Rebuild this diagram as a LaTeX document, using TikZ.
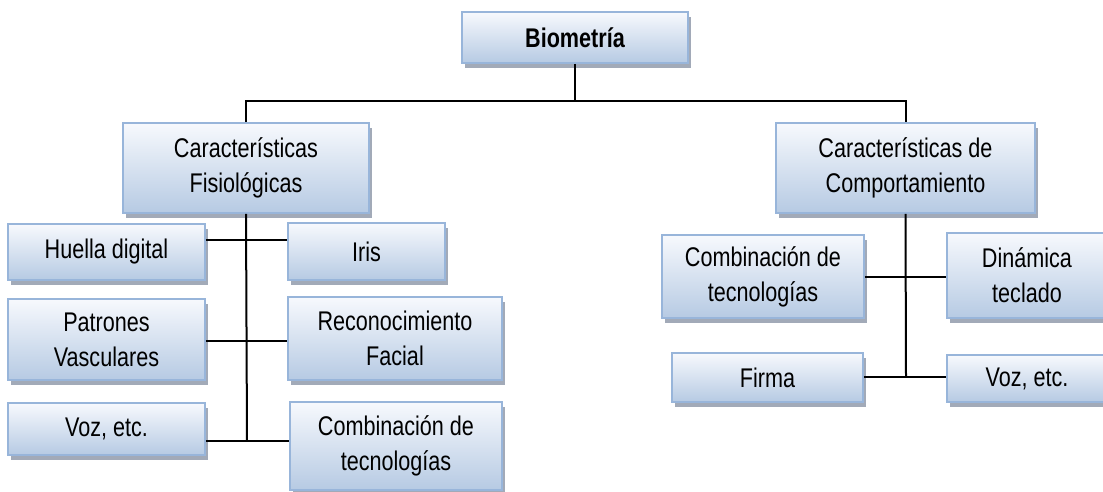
\documentclass[tikz,border=0pt]{standalone}
\usepackage{fontspec}
\setmainfont{Liberation Sans}[FakeStretch=0.8]
\usetikzlibrary{shadows}
\definecolor{boxtop}{HTML}{F7F9FD}
\definecolor{boxbot}{HTML}{B6CAE3}
\definecolor{boxline}{HTML}{98B5DA}
\definecolor{shadowc}{HTML}{A2AAB8}
\tikzset{
  bx/.style={rectangle, draw=boxline, line width=1.8pt, top color=boxtop, bottom color=boxbot,
    align=center, inner sep=2pt, font=\fontsize{27}{35}\selectfont,
    drop shadow={shadow xshift=3pt, shadow yshift=-5pt, fill=shadowc, opacity=1}},
  conn/.style={draw=black, line width=2pt}
}
\begin{document}
\begin{tikzpicture}[x=1pt,y=-1pt]
\useasboundingbox (0,0) rectangle (1103,491);
% nodes
\node[bx, minimum width=226pt, minimum height=51pt, font=\fontsize{27}{35}\selectfont\bfseries] (bio) at (575,37.5) {Biometría};
\node[bx, minimum width=246pt, minimum height=90pt] (fis) at (246,168) {Características\\Fisiológicas};
\node[bx, minimum width=259pt, minimum height=90pt] (comp) at (905.5,168) {Características de\\Comportamiento};
\node[bx, minimum width=197pt, minimum height=56pt] (huella) at (106.5,252) {Huella digital};
\node[bx, minimum width=157pt, minimum height=57pt] (iris) at (366.5,251.5) {Iris};
\node[bx, minimum width=197pt, minimum height=81pt] (patrones) at (106.5,339.5) {Patrones\\Vasculares};
\node[bx, minimum width=214pt, minimum height=83pt] (recon) at (395,338.5) {Reconocimiento\\Facial};
\node[bx, minimum width=197pt, minimum height=52pt] (vozl) at (106.5,429) {Voz, etc.};
\node[bx, minimum width=212pt, minimum height=88pt] (combl) at (396,446) {Combinación de\\tecnologías};
\node[bx, minimum width=202pt, minimum height=83pt] (combr) at (763,276.5) {Combinación de\\tecnologías};
\node[bx, minimum width=160pt, minimum height=85pt] (din) at (1027,275.5) {Dinámica\\teclado};
\node[bx, minimum width=191pt, minimum height=49pt] (firma) at (767.5,377.5) {Firma};
\node[bx, minimum width=160pt, minimum height=47pt] (vozr) at (1027,378.5) {Voz, etc.};
% connector levels
\coordinate (top) at (573,101);
\coordinate (l1) at (247,240);
\coordinate (l2) at (247,341);
\coordinate (l3) at (247,441);
\coordinate (r1) at (906,277);
\coordinate (r2) at (906,377);
% connectors
\draw[conn] (bio.south) -- (bio.south |- top);
\draw[conn] (fis.north) -- (fis.north |- top) -- (comp.north |- top) -- (comp.north);
\draw[conn] (fis.south) -- (l3);
\draw[conn] (huella.east |- l1) -- (iris.west |- l1);
\draw[conn] (patrones.east |- l2) -- (recon.west |- l2);
\draw[conn] (vozl.east |- l3) -- (combl.west |- l3);
\draw[conn] (comp.south) -- (r2);
\draw[conn] (combr.east |- r1) -- (din.west |- r1);
\draw[conn] (firma.east |- r2) -- (vozr.west |- r2);
\end{tikzpicture}
\end{document}
